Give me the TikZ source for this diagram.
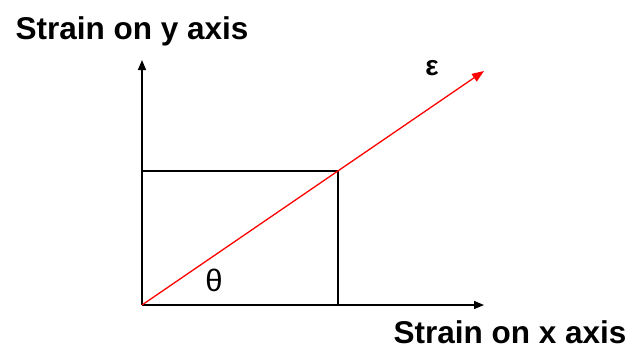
\documentclass[tikz,border=0pt]{standalone}
\usepackage{fontspec}
\setmainfont{Liberation Sans}
\usetikzlibrary{arrows.meta}
\begin{document}
\begin{tikzpicture}[x=1pt,y=-1pt,
  axis/.style={line width=1.3pt,black,-{Triangle[length=10pt,width=8pt]}},
  thin/.style={line width=1.3pt,black},
  strain/.style={line width=1.3pt,red,-{Triangle[length=12pt,width=9pt]}},
  lab/.style={font=\fontsize{31.5}{38}\selectfont\bfseries,inner sep=0pt},
  sym/.style={font=\fontsize{31}{36}\selectfont,inner sep=0pt}]
\useasboundingbox (0,0) rectangle (633,349);
\coordinate (O) at (142,305);
\coordinate (Y) at (142,60);
\coordinate (X) at (484,305);
\coordinate (C) at (338,171);
\coordinate (CY) at (142,171);
\coordinate (CX) at (338,305);
\coordinate (E) at (484,71);
\draw[thin] (CY) -- (C) -- (CX);
\draw[axis] (O) -- (Y);
\draw[axis] (O) -- (X);
\draw[strain] (O) -- (E);
\node[lab] (ylab) at (132,31) {Strain on y axis};
\node[lab] (xlab) at (510,332) {Strain on x axis};
\node[sym,font=\fontsize{28}{32}\selectfont\bfseries] (eps) at (432,68) {ε};
\node[sym] (theta) at (214,280) {θ};
\end{tikzpicture}
\end{document}
